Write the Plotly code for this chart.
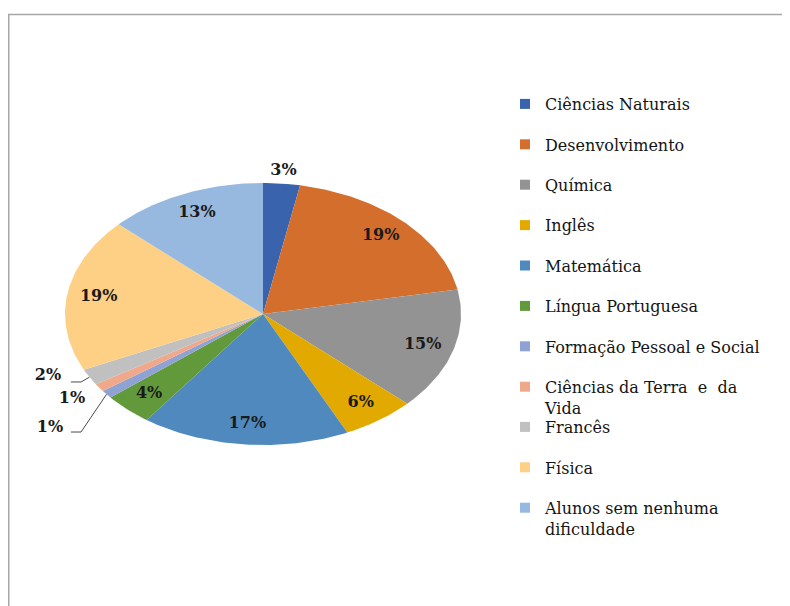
import numpy as np
import plotly.graph_objects as go

# ---------------- data ----------------
categories = [
    "Ciências Naturais", "Desenvolvimento", "Química", "Inglês", "Matemática",
    "Língua Portuguesa", "Formação Pessoal e Social", "Ciências da Terra e da Vida",
    "Francês", "Física", "Alunos sem nenhuma dificuldade",
]
percent_values = [3, 19, 15, 6, 17, 4, 1, 1, 2, 19, 13]
legend_labels = [
    "Ciências Naturais", "Desenvolvimento", "Química", "Inglês", "Matemática",
    "Língua Portuguesa", "Formação Pessoal e Social", "Ciências da Terra  e  da<br>Vida",
    "Francês", "Física", "Alunos sem nenhuma<br>dificuldade",
]

# ---------------- styles ----------------
colors = ["#3A63AD", "#D46E2C", "#939393", "#E2AA00", "#4F89BE", "#62993A",
          "#8FA2D4", "#F0A88A", "#C0C0C0", "#FDD085", "#97B8DF"]
W, H = 790, 606
OFF = 8                                   # page body margin
CX, CY, RX, RY = 263 - OFF, 314 - OFF, 198, 131
INSIDE_R = 0.84
OUTSIDE_R = 1.10
label_override = {
    "Francês": (-1.086, -0.473),
    "Ciências da Terra e da Vida": (-0.965, -0.649),
    "Formação Pessoal e Social": (-1.076, -0.870),
}
leader_elbows = {
    "Francês": [(-0.919, -0.519), (-0.970, -0.519)],
    "Formação Pessoal e Social": [(-0.919, -0.901), (-0.970, -0.901)],
}
TEXT_FONT = "DejaVu Serif"
LEG_FONT = 16
SPLIT = 8        # entries after this go into the second legend block

fig = go.Figure()

vals = np.array(percent_values, dtype=float)
frac = vals / vals.sum()
ends = np.cumsum(frac)
starts = ends - frac

for cat, s, e, col in zip(categories, starts, ends, colors):
    t = np.linspace(s, e, max(int((e - s) * 400), 4)) * 2 * np.pi
    xs = np.concatenate([[0], np.sin(t), [0]])
    ys = np.concatenate([[0], np.cos(t), [0]])
    fig.add_trace(go.Scatter(x=xs, y=ys, mode="lines", fill="toself",
                             fillcolor=col, line=dict(width=0, color=col),
                             name=cat, showlegend=False, hoverinfo="name"))

for cat, s, e in zip(categories, starts, ends):
    if cat in leader_elbows:
        m = (s + e) / 2 * 2 * np.pi
        pts = [(np.sin(m), np.cos(m))] + leader_elbows[cat]
        fig.add_trace(go.Scatter(x=[p[0] for p in pts], y=[p[1] for p in pts],
                                 mode="lines", line=dict(color="#4a4a4a", width=1),
                                 showlegend=False, hoverinfo="skip"))

lx, ly, lt = [], [], []
for cat, s, e, v in zip(categories, starts, ends, percent_values):
    m = (s + e) / 2 * 2 * np.pi
    if cat in label_override:
        px, py = label_override[cat]
    else:
        r = INSIDE_R if v >= 4 else OUTSIDE_R
        px, py = r * np.sin(m), r * np.cos(m)
    lx.append(px); ly.append(py); lt.append(f"{v}%")
fig.add_trace(go.Scatter(x=lx, y=ly, mode="text", text=lt,
                         textfont=dict(family=TEXT_FONT, size=16, color="#1a1a1a", weight="bold"),
                         showlegend=False, hoverinfo="skip"))

for i, (lab, col) in enumerate(zip(legend_labels, colors)):
    fig.add_trace(go.Scatter(x=[None], y=[None], mode="markers", name=lab,
                             marker=dict(symbol="square", size=10, color=col),
                             legendgroup=lab, showlegend=True,
                             legend="legend" if i < SPLIT else "legend2"))

fig.add_shape(type="rect", xref="paper", yref="paper",
              x0=0.75 / W, x1=1.02, y0=-0.02, y1=1 - 6.5 / H,
              line=dict(color="#a6a6a6", width=1.5), fillcolor="rgba(0,0,0,0)")

leg_common = dict(xanchor="left", yanchor="top",
                  font=dict(family=TEXT_FONT, size=LEG_FONT, color="#141414"),
                  valign="top", tracegroupgap=16.6, bgcolor="rgba(0,0,0,0)",
                  itemclick=False, itemdoubleclick=False)

fig.update_layout(
    width=W, height=H, autosize=False,
    margin=dict(l=0, r=0, t=0, b=0),
    paper_bgcolor="white", plot_bgcolor="white",
    xaxis=dict(range=[-CX / RX, (W - CX) / RX], visible=False, fixedrange=True),
    yaxis=dict(range=[-(H - CY) / RY, CY / RY], visible=False, fixedrange=True),
    legend=dict(x=497 / W, y=1 - 79 / H, **leg_common),
    legend2=dict(x=497 / W, y=1 - 402 / H, **leg_common),
    showlegend=True,
)

fig.write_html("out.html")
